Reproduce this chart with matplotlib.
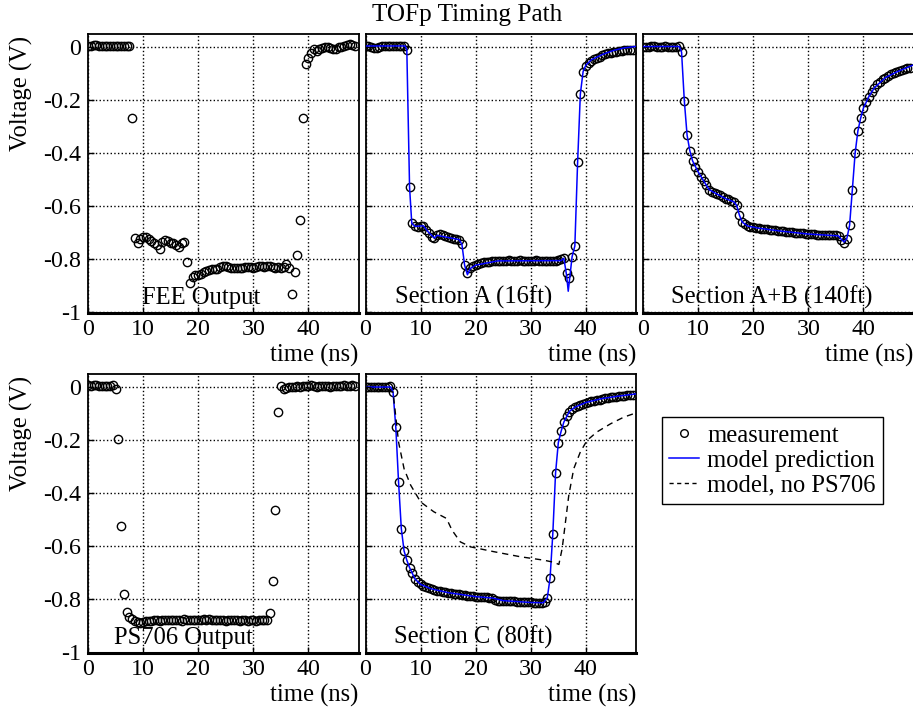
import matplotlib
matplotlib.use("Agg")
import matplotlib.pyplot as plt
from matplotlib.lines import Line2D
import numpy as np

plt.rcParams['font.family'] = ['Liberation Serif', 'DejaVu Serif']
plt.rcParams['axes.unicode_minus'] = False

# sampling grid of the scope traces (ns)
t = np.arange(0.0, 49.0, 0.5)

# measured voltages (V), one value per 0.5 ns
fee_v = [0.003, 0.002, 0.004, 0.006, 0.003, 0.002, 0.002, 0.002, 0.002, 0.002,
         0.002, 0.002, 0.002, 0.003, 0.002, 0.001, -0.270, -0.720, -0.740, -0.725,
         -0.715, -0.718, -0.725, -0.732, -0.740, -0.745, -0.762, -0.735, -0.728, -0.733,
         -0.738, -0.740, -0.745, -0.752, -0.738, -0.735, -0.812, -0.890, -0.868, -0.860,
         -0.858, -0.855, -0.848, -0.845, -0.840, -0.838, -0.836, -0.835, -0.828, -0.826,
         -0.826, -0.830, -0.832, -0.832, -0.833, -0.832, -0.832, -0.830, -0.828, -0.830,
         -0.834, -0.828, -0.826, -0.826, -0.828, -0.825, -0.826, -0.830, -0.832, -0.830,
         -0.832, -0.830, -0.818, -0.832, -0.930, -0.848, -0.783, -0.653, -0.270, -0.065,
         -0.044, -0.025, -0.010, -0.018, -0.010, -0.005, -0.003, -0.002, -0.005, -0.010,
         -0.008, -0.003, -0.001, 0.002, 0.005, 0.008, 0.005, 0.002]

seca_v = [0.003, 0.002, -0.002, -0.004, -0.006, 0.000, 0.002, 0.003, 0.003, 0.002,
          0.001, 0.002, 0.001, 0.003, 0.002, -0.013, -0.530, -0.663, -0.676, -0.677,
          -0.675, -0.674, -0.690, -0.700, -0.716, -0.720, -0.710, -0.705, -0.709, -0.713,
          -0.717, -0.720, -0.722, -0.725, -0.726, -0.744, -0.823, -0.852, -0.833, -0.826,
          -0.822, -0.818, -0.815, -0.812, -0.810, -0.809, -0.808, -0.806, -0.805, -0.806,
          -0.805, -0.806, -0.804, -0.805, -0.806, -0.805, -0.804, -0.806, -0.805, -0.807,
          -0.806, -0.805, -0.804, -0.806, -0.805, -0.806, -0.807, -0.806, -0.805, -0.806,
          -0.804, -0.800, -0.794, -0.852, -0.869, -0.790, -0.750, -0.436, -0.178, -0.094,
          -0.075, -0.063, -0.053, -0.048, -0.042, -0.038, -0.033, -0.029, -0.026, -0.023,
          -0.021, -0.019, -0.017, -0.016, -0.015, -0.014, -0.013, -0.012]

secab_v = [0.000, 0.000, 0.000, 0.002, 0.002, 0.000, 0.000, 0.000, 0.001, 0.000,
           0.000, 0.000, 0.000, 0.003, -0.021, -0.204, -0.333, -0.392, -0.430, -0.452,
           -0.471, -0.490, -0.505, -0.521, -0.538, -0.546, -0.550, -0.555, -0.560, -0.566,
           -0.572, -0.575, -0.580, -0.584, -0.597, -0.634, -0.660, -0.668, -0.675, -0.678,
           -0.680, -0.681, -0.683, -0.685, -0.686, -0.687, -0.688, -0.689, -0.690, -0.692,
           -0.694, -0.695, -0.697, -0.698, -0.699, -0.700, -0.701, -0.702, -0.703, -0.704,
           -0.705, -0.706, -0.706, -0.707, -0.707, -0.708, -0.708, -0.709, -0.709, -0.710,
           -0.710, -0.712, -0.729, -0.739, -0.722, -0.672, -0.538, -0.402, -0.318, -0.270,
           -0.232, -0.207, -0.188, -0.170, -0.155, -0.142, -0.132, -0.124, -0.117, -0.111,
           -0.105, -0.100, -0.096, -0.092, -0.088, -0.085, -0.082, -0.079]

ps706_v = [0.004, 0.003, 0.006, 0.004, 0.003, 0.003, 0.001, 0.003, 0.002, 0.006,
           -0.011, -0.199, -0.524, -0.781, -0.849, -0.865, -0.875, -0.882, -0.885, -0.888,
           -0.884, -0.882, -0.880, -0.881, -0.879, -0.878, -0.880, -0.877, -0.879, -0.878,
           -0.876, -0.879, -0.877, -0.878, -0.880, -0.875, -0.877, -0.876, -0.879, -0.877,
           -0.878, -0.876, -0.874, -0.877, -0.875, -0.878, -0.876, -0.879, -0.877, -0.878,
           -0.880, -0.878, -0.879, -0.877, -0.878, -0.880, -0.879, -0.878, -0.880, -0.879,
           -0.878, -0.880, -0.879, -0.878, -0.877, -0.876, -0.853, -0.731, -0.463, -0.096,
           0.001, -0.011, -0.006, -0.003, -0.002, 0.000, 0.001, 0.000, 0.002, 0.001,
           0.002, 0.005, 0.003, 0.000, 0.002, 0.001, 0.003, 0.002, 0.000, 0.002,
           0.003, 0.001, 0.002, 0.004, 0.002, 0.003, 0.004, 0.003]

secc_v = [-0.002, -0.003, -0.002, -0.003, -0.001, -0.002, -0.003, -0.001, -0.002, 0.001,
          -0.021, -0.153, -0.359, -0.534, -0.618, -0.653, -0.681, -0.703, -0.724, -0.736,
          -0.744, -0.750, -0.754, -0.758, -0.761, -0.764, -0.767, -0.769, -0.771, -0.773,
          -0.775, -0.777, -0.779, -0.780, -0.781, -0.783, -0.785, -0.786, -0.788, -0.789,
          -0.790, -0.791, -0.792, -0.792, -0.793, -0.794, -0.795, -0.803, -0.805, -0.806,
          -0.806, -0.807, -0.807, -0.808, -0.808, -0.809, -0.810, -0.811, -0.811, -0.812,
          -0.812, -0.813, -0.813, -0.814, -0.814, -0.812, -0.794, -0.721, -0.553, -0.325,
          -0.211, -0.169, -0.134, -0.111, -0.094, -0.085, -0.078, -0.073, -0.069, -0.065,
          -0.062, -0.059, -0.056, -0.053, -0.051, -0.049, -0.047, -0.045, -0.043, -0.041,
          -0.040, -0.038, -0.037, -0.035, -0.034, -0.033, -0.032, -0.031]

# model predictions (t in ns, v in V)
moda_t = [0, 7.2, 7.5, 8.0, 8.4, 9.0, 10.5, 11.5, 12.5, 13.0, 17.0, 17.5, 18.0, 18.5, 19.0, 20.0,
          24.0, 35.5, 36.0, 36.5, 36.8, 37.5, 38.0, 38.5, 39.0, 39.5, 40.0, 41.0, 43.0, 45.0, 47.0, 49.0]
moda_v = [0.002, 0.002, -0.013, -0.53, -0.665, -0.676, -0.674, -0.70, -0.72, -0.71, -0.726, -0.744,
          -0.823, -0.858, -0.835, -0.822, -0.806, -0.805, -0.796, -0.86, -0.92, -0.79, -0.75, -0.436,
          -0.178, -0.094, -0.07, -0.05, -0.03, -0.015, -0.005, 0.0]

modab_t = [0, 6.6, 7.0, 7.5, 8.0, 8.5, 9.0, 10.0, 11.0, 12.0, 13.0, 15.0, 16.5, 17.0, 17.5, 18.0,
           19.0, 21.0, 25.0, 30.0, 35.5, 36.0, 36.5, 37.0, 37.5, 38.0, 38.5, 39.0, 39.5, 40.0,
           41.0, 42.0, 44.0, 46.0, 49.0]
modab_v = [0.0, 0.0, -0.021, -0.204, -0.333, -0.392, -0.43, -0.471, -0.505, -0.538, -0.55, -0.572,
           -0.584, -0.597, -0.634, -0.66, -0.675, -0.683, -0.694, -0.705, -0.712, -0.725, -0.735,
           -0.722, -0.672, -0.538, -0.402, -0.318, -0.27, -0.232, -0.188, -0.155, -0.117, -0.096, -0.07]

modc_t = [0, 4.6, 5.0, 5.5, 6.0, 6.5, 7.0, 7.5, 8.0, 9.0, 10.0, 12.0, 15.0, 20.0, 23.0, 25.0,
          30.0, 32.3, 33.0, 33.5, 34.0, 34.5, 35.0, 35.5, 36.0, 37.0, 38.0, 40.0, 43.0, 46.0, 49.0]
modc_v = [-0.002, -0.002, -0.021, -0.153, -0.359, -0.534, -0.618, -0.653, -0.681, -0.724, -0.744,
          -0.761, -0.775, -0.79, -0.795, -0.805, -0.812, -0.813, -0.794, -0.721, -0.553, -0.325,
          -0.211, -0.169, -0.134, -0.094, -0.078, -0.06, -0.045, -0.036, -0.028]

# model without the PS706 stage (Section C only)
nops_t = [0, 5.0, 5.4, 6.0, 7.0, 8.2, 10.0, 12.4, 14.7, 15.7, 17.2, 19.1, 23.3, 28.1, 32.4, 34.2,
          35.1, 35.7, 36.3, 36.9, 37.8, 39.0, 40.2, 42.0, 44.5, 46.9, 49.0]
nops_v = [-0.002, -0.021, -0.096, -0.209, -0.309, -0.371, -0.434, -0.471, -0.496, -0.54, -0.584,
          -0.603, -0.621, -0.64, -0.653, -0.661, -0.669, -0.609, -0.509, -0.409, -0.309, -0.246,
          -0.203, -0.171, -0.14, -0.115, -0.1]

panels = [
    ("FEE Output", fee_v, None, None, 0, 0, 20.5),
    ("Section A (16ft)", seca_v, moda_t, moda_v, 0, 1, 19.6),
    ("Section A+B (140ft)", secab_v, modab_t, modab_v, 0, 2, 23.3),
    ("PS706 Output", ps706_v, None, None, 1, 0, 17.4),
    ("Section C (80ft)", secc_v, modc_t, modc_v, 1, 1, 19.6),
]

W, H = 913.0, 708.0
col_left = [88, 365.5, 643]
row_top = [34, 374]
aw, ah = 270.5, 278.5
FS = 17.7

fig = plt.figure(figsize=(W / 100, H / 100), dpi=100)

for name, vals, mt, mv, r, c, lx in panels:
    ax = fig.add_axes([col_left[c] / W, 1 - (row_top[r] + ah) / H, aw / W, ah / H])
    ax.plot(t, vals, 'o', ms=6, mfc='none', mec='black', mew=1.0, zorder=3)
    if mt is not None:
        ax.plot(mt, mv, '-', color='#0000ff', lw=1.1, zorder=4)
    if name.startswith("Section C"):
        ax.plot(nops_t, nops_v, color='black', lw=1.0, dashes=(4.5, 3.5), zorder=4)
    ax.set_xlim(0, 49.1)
    ax.set_ylim(-1, 0.047)
    ax.set_xticks([0, 10, 20, 30, 40])
    ax.set_xticklabels(['0', '10', '20', '30', '40'])
    ax.set_yticks([-1, -0.8, -0.6, -0.4, -0.2, 0])
    ax.set_yticklabels(['-1', '-0.8', '-0.6', '-0.4', '-0.2', '0'])
    ax.grid(True, color='black', linestyle=':', lw=1.0)
    ax.set_axisbelow(True)
    ax.tick_params(direction='in', length=4, width=1, labelsize=17.3, pad=5,
                   labelleft=(c == 0))
    for s in ax.spines.values():
        s.set_linewidth(1.3)
    ax.spines['bottom'].set_linewidth(2.2)
    ax.text(lx, -0.985, name, ha='center', va='bottom', fontsize=FS, zorder=5)
    ax.set_xlabel("time (ns)", fontsize=FS, ha='right')
    ax.xaxis.set_label_coords(1.0, -0.112)
    if c == 0:
        fig.text(21 / W, 1 - (row_top[r] + 0.215 * ah) / H, "Voltage (V)", rotation=90,
                 ha='center', va='center', fontsize=FS)

fig.text(467 / W, 1 - 20.5 / H, "TOFp Timing Path", ha='center', va='baseline', fontsize=18.2)

handles = [
    Line2D([], [], ls='none', marker='o', ms=5.5, mfc='none', mec='black', mew=1.0),
    Line2D([], [], color='#0000ff', lw=1.1),
    Line2D([], [], color='black', lw=1.0, dashes=(3, 2.5)),
]
labels = ["measurement", "model prediction", "model, no PS706"]
fig.legend(handles, labels, loc='upper left', bbox_to_anchor=(662 / W, 1 - 417 / H),
           frameon=True, fancybox=False, edgecolor='black', framealpha=1,
           fontsize=17.7, handlelength=1.2, handletextpad=0.35, borderpad=0.3,
           labelspacing=0.12, borderaxespad=0).get_frame().set_linewidth(1.0)

fig.savefig("out.png", dpi=100)
